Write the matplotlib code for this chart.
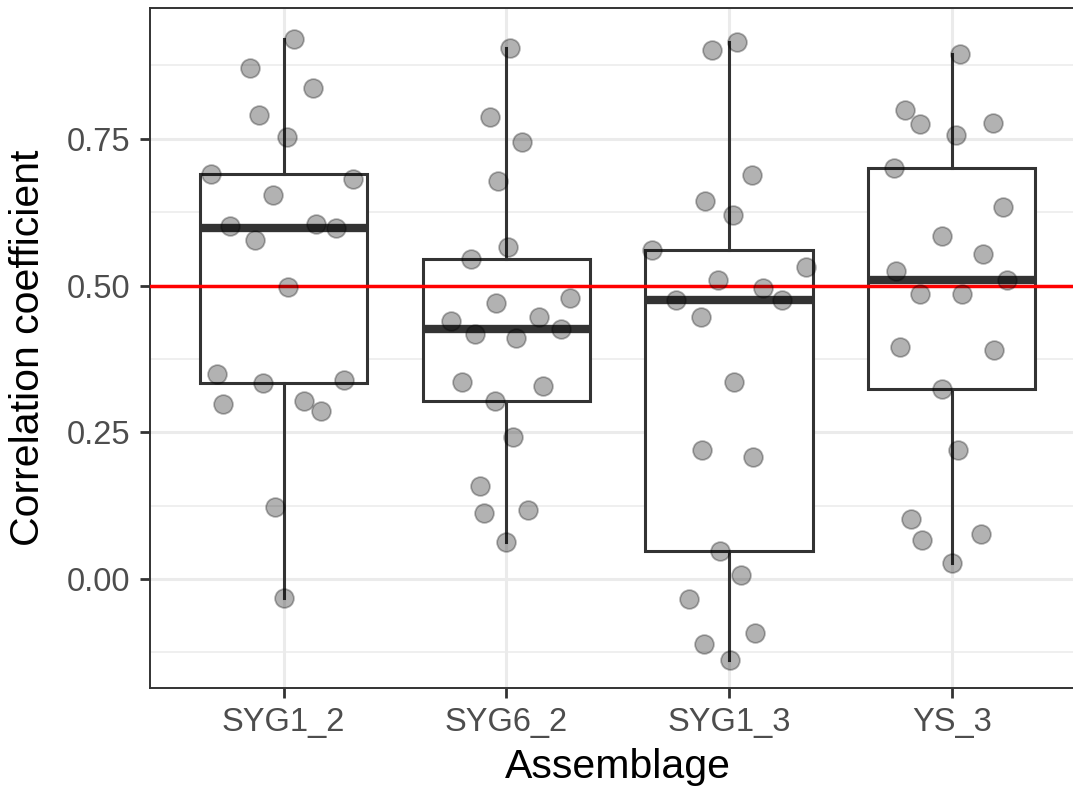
import matplotlib.pyplot as plt
import numpy as np

plt.rcParams['font.family'] = ['Liberation Sans', 'DejaVu Sans']

# Correlation coefficient per assemblage, with the horizontal jitter of each point
assemblages = ['SYG1_2', 'SYG6_2', 'SYG1_3', 'YS_3']

syg1_2 = [0.921, 0.871, 0.837, 0.791, 0.753, 0.690, 0.682, 0.655, 0.602, 0.605, 0.598,
          0.578, 0.498, 0.349, 0.333, 0.339, 0.298, 0.303, 0.286, 0.123, -0.033]
syg1_2_jit = [0.048, -0.150, 0.133, -0.112, 0.016, -0.325, 0.310, -0.048, -0.242, 0.144, 0.236,
              -0.130, 0.018, -0.300, -0.093, 0.269, -0.271, 0.090, 0.166, -0.039, 0.000]

syg6_2 = [0.905, 0.787, 0.745, 0.678, 0.565, 0.545, 0.479, 0.470, 0.440, 0.447, 0.426,
          0.418, 0.411, 0.336, 0.328, 0.303, 0.241, 0.158, 0.112, 0.117, 0.062]
syg6_2_jit = [0.018, -0.075, 0.070, -0.039, 0.009, -0.160, 0.285, -0.045, -0.250, 0.148, 0.244,
              -0.141, 0.045, -0.198, 0.166, -0.049, 0.029, -0.119, -0.099, 0.099, 0.000]

syg1_3 = [0.915, 0.901, 0.689, 0.644, 0.620, 0.561, 0.531, 0.509, 0.495, 0.476, 0.475,
          0.447, 0.336, 0.220, 0.208, 0.047, 0.007, -0.035, -0.092, -0.111, -0.138]
syg1_3_jit = [0.036, -0.076, 0.103, -0.106, 0.019, -0.344, 0.348, -0.049, 0.151, -0.237, 0.236,
              -0.124, 0.021, -0.121, 0.106, -0.042, 0.055, -0.180, 0.118, -0.111, 0.003]

ys_3 = [0.895, 0.799, 0.776, 0.777, 0.756, 0.700, 0.634, 0.585, 0.554, 0.524, 0.510,
        0.485, 0.485, 0.395, 0.390, 0.323, 0.220, 0.102, 0.067, 0.077, 0.027]
ys_3_jit = [0.039, -0.211, -0.144, 0.184, 0.019, -0.259, 0.229, -0.042, 0.141, -0.250, 0.250,
            -0.144, 0.048, -0.230, 0.192, -0.045, 0.028, -0.184, -0.132, 0.130, 0.000]

groups = [syg1_2, syg6_2, syg1_3, ys_3]
jitters = [syg1_2_jit, syg6_2_jit, syg1_3_jit, ys_3_jit]
threshold = 0.5

dark = '#333333'
grid_col = '#ebebeb'

fig = plt.figure(figsize=(10.73, 7.91), dpi=100)
ax = fig.add_axes([150 / 1073, 103 / 791, 935.3 / 1073, 680 / 791])

positions = np.arange(len(assemblages))

bp = ax.boxplot(groups, positions=positions, widths=0.75, whis=1.5,
                showcaps=False, showfliers=False, patch_artist=True, zorder=2,
                boxprops=dict(facecolor='white', edgecolor=dark, linewidth=2.2),
                whiskerprops=dict(color=dark, linewidth=2.2),
                medianprops=dict(color=dark, linewidth=6.0, solid_capstyle='butt'))

ax.axhline(threshold, color='red', linewidth=2.5, zorder=3)

for pos, vals, jit in zip(positions, groups, jitters):
    ax.plot(pos + np.array(jit), vals, 'o', linestyle='none', markersize=13.5,
            markerfacecolor=(0, 0, 0, 0.3), markeredgecolor=(0, 0, 0, 0.3),
            markeredgewidth=1.3, zorder=4)

ax.set_xlim(-0.6, 3.6)
ax.set_ylim(-0.186, 0.973)
ax.set_xticks(positions)
ax.set_xticklabels(assemblages)
ax.set_yticks([0.0, 0.25, 0.5, 0.75])
ax.set_yticklabels(['0.00', '0.25', '0.50', '0.75'])
ax.set_yticks([-0.125, 0.125, 0.375, 0.625, 0.875], minor=True)

ax.grid(True, which='major', color=grid_col, linewidth=2.2, zorder=0)
ax.grid(True, which='minor', axis='y', color=grid_col, linewidth=1.1, zorder=0)
ax.set_axisbelow(True)

for s in ax.spines.values():
    s.set_color(dark)
    s.set_linewidth(1.4)

ax.tick_params(axis='both', which='major', length=7, width=2, color=dark,
               labelsize=23.5, labelcolor='#4d4d4d', pad=7)
ax.tick_params(axis='y', which='minor', length=0)

ax.set_xlabel('Assemblage', fontsize=29.5, color='black', labelpad=7)
ax.set_ylabel('Correlation coefficient', fontsize=29.5, color='black', labelpad=14)

fig.savefig('out.png', dpi=100)
